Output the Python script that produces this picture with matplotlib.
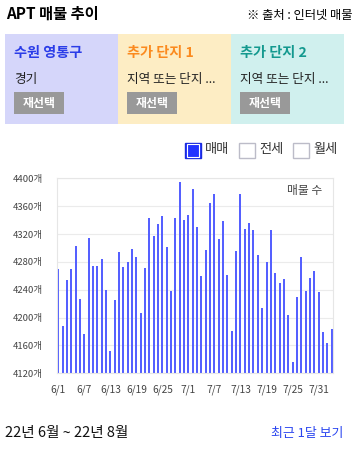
import matplotlib
matplotlib.use('Agg')
import matplotlib.pyplot as plt
from matplotlib.patches import Rectangle

plt.rcParams['font.family'] = ['Noto Sans CJK KR', 'DejaVu Sans']

# 데이터
dates = ['6/%d' % d for d in range(1, 31)] + ['7/%d' % d for d in range(1, 32)] + ['8/%d' % d for d in range(1, 4)]
counts = [4270, 4188, 4254, 4270, 4303, 4227, 4177, 4314, 4274, 4274,
          4284, 4240, 4152, 4225, 4294, 4273, 4280, 4298, 4287, 4207,
          4271, 4343, 4317, 4334, 4346, 4301, 4238, 4343, 4395, 4340,
          4347, 4385, 4330, 4260, 4297, 4365, 4377, 4313, 4339, 4261,
          4181, 4296, 4377, 4327, 4336, 4326, 4290, 4214, 4280, 4326,
          4264, 4250, 4255, 4204, 4136, 4230, 4287, 4238, 4257, 4267,
          4237, 4179, 4164, 4184]
y_ticks = [4120, 4160, 4200, 4240, 4280, 4320, 4360, 4400]
panel_titles = ['수원 영통구', '추가 단지 1', '추가 단지 2']
panel_subs = ['경기', '지역 또는 단지 ...', '지역 또는 단지 ...']
panel_colors = ['#d5d6fa', '#fdedc4', '#d0f0ee']
title_colors = ['#2b3de8', '#fb8a1e', '#14998f']
legend_items = ['매매', '전세', '월세']

W, H = 353, 449
fig = plt.figure(figsize=(W / 100, H / 100), dpi=100)

# 바깥 UI는 픽셀 좌표의 오버레이 축에 그림
ui = fig.add_axes([0, 0, 1, 1])
ui.set_xlim(0, W)
ui.set_ylim(H, 0)
ui.axis('off')

ui.text(6, 14, 'APT 매물 추이', fontsize=11, fontweight='bold', va='center', ha='left')
ui.text(247, 16, '※ 출처 : 인터넷 매물', fontsize=8.8, va='center', ha='left')

for i in range(3):
    x0 = 5 + 113 * i
    ui.add_patch(Rectangle((x0, 34), 113, 90, facecolor=panel_colors[i], edgecolor='none'))
    ui.text(x0 + 9, 53, panel_titles[i], fontsize=10.2, fontweight='bold',
            color=title_colors[i], va='center', ha='left')
    ui.text(x0 + 9, 79, panel_subs[i], fontsize=9.1, color='#222222', va='center', ha='left')
    ui.add_patch(Rectangle((x0 + 9, 92), 50, 22, facecolor='#999999', edgecolor='none'))
    ui.text(x0 + 34, 103, '재선택', fontsize=8.6, fontweight='bold', color='white',
            va='center', ha='center')

# 범례 체크박스
box_x = [185, 239, 293]
for i, name in enumerate(legend_items):
    if i == 0:
        ui.add_patch(Rectangle((box_x[i], 142.5), 15.5, 15.5, facecolor='#2233ff',
                               edgecolor='#1a2bdd', linewidth=1))
        ui.add_patch(Rectangle((box_x[i] + 1.5, 144), 12.5, 12.5, facecolor='none',
                               edgecolor='white', linewidth=0.8))
    else:
        ui.add_patch(Rectangle((box_x[i], 142.5), 15.5, 15.5, facecolor='white',
                               edgecolor='#bcbcc8', linewidth=1))
    ui.text(box_x[i] + 20, 150, name, fontsize=9.5, color='#333333', va='center', ha='left')

ui.text(5, 433, '22년 6월 ~ 22년 8월', fontsize=10.5, color='#111111', va='center', ha='left')
ui.text(343, 433, '최근 1달 보기', fontsize=9.3, color='#2a45f0', va='center', ha='right')

# 막대 차트
left, right, top, bottom = 56.7, 333.3, 178.3, 373.3
ax = fig.add_axes([left / W, 1 - bottom / H, (right - left) / W, (bottom - top) / H])
xs = list(range(len(counts)))
ax.bar(xs, [c - y_ticks[0] for c in counts], bottom=y_ticks[0], width=0.46,
       color='#5560ff', linewidth=0, zorder=2)
ax.set_xlim(-0.37, len(counts) - 0.6)
ax.set_ylim(y_ticks[0], y_ticks[-1])
ax.set_yticks(y_ticks)
ax.set_yticklabels(['%d개' % v for v in y_ticks])
ax.set_xticks(xs[::6])
ax.set_xticklabels(dates[::6])
ax.tick_params(axis='both', length=0, labelcolor='#444444')
ax.tick_params(axis='y', pad=10, labelsize=6.8)
ax.tick_params(axis='x', pad=8, labelsize=7.3)
ax.grid(axis='y', color='#ebebeb', linewidth=0.8, zorder=0)
for s in ax.spines.values():
    s.set_color('#e6e6e6')
    s.set_linewidth(0.8)
ax.text(0.96, 0.94, '매물 수', transform=ax.transAxes, fontsize=8.5, color='#444444',
        ha='right', va='center')

fig.savefig('out.png', dpi=100)
